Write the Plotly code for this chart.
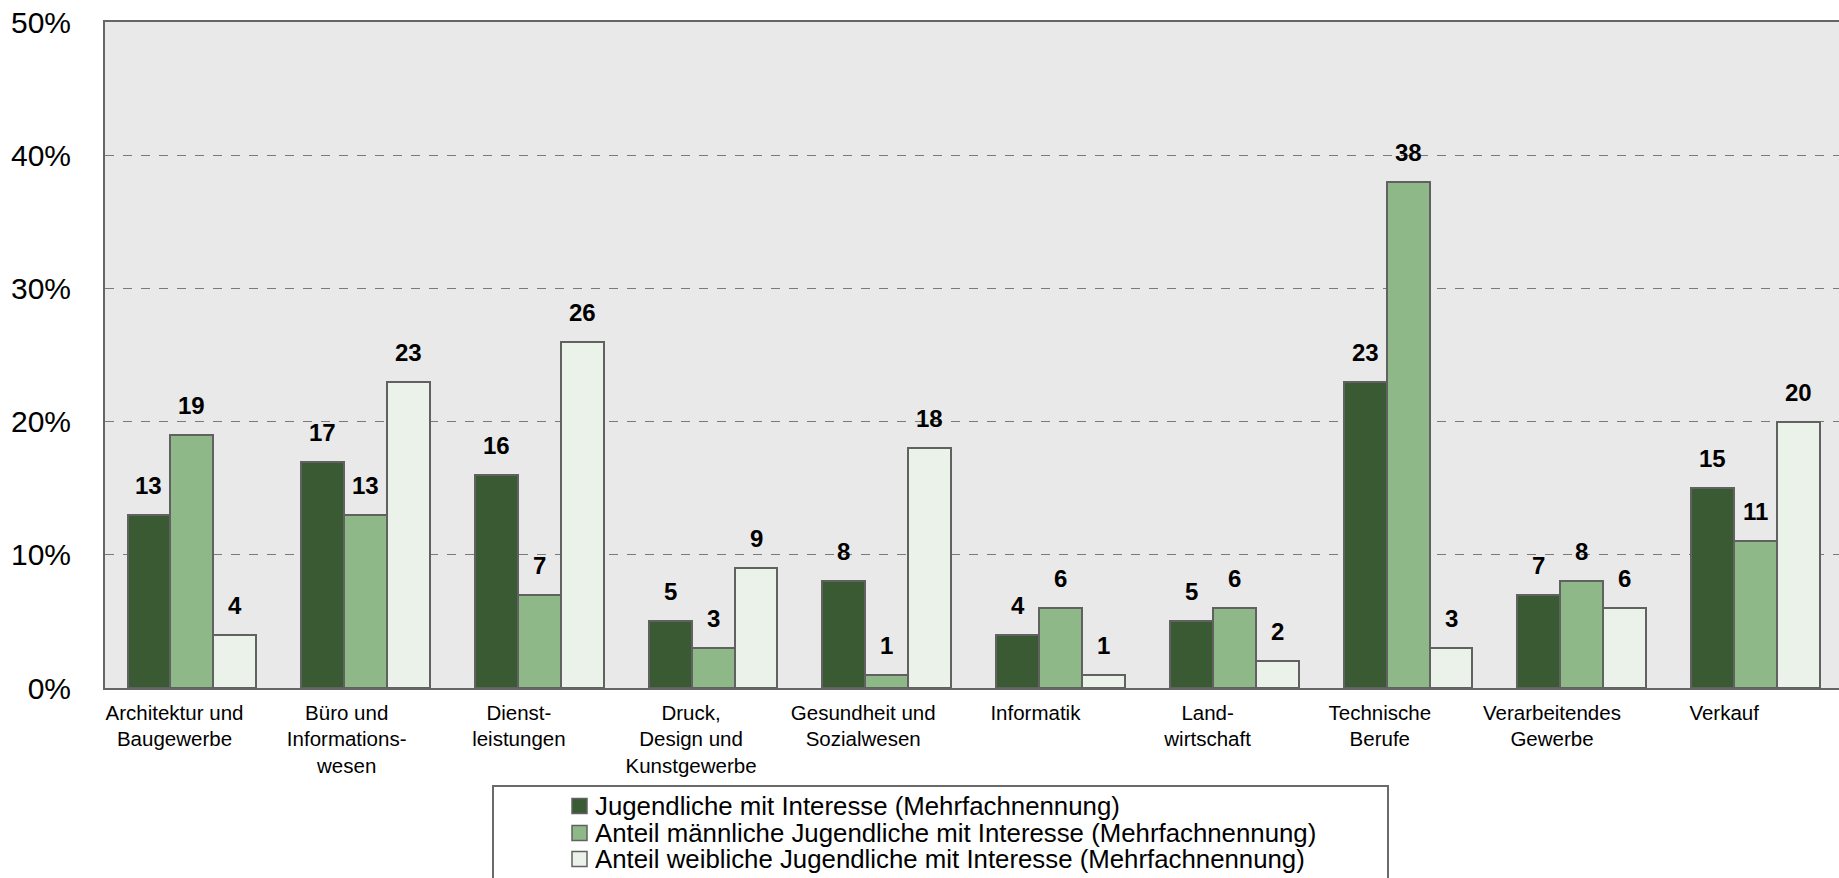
import numpy as np
import plotly.graph_objects as go

# Berufsfelder (x-axis categories)
categories = [
    "Architektur und<br>Baugewerbe",
    "Büro und<br>Informations-<br>wesen",
    "Dienst-<br>leistungen",
    "Druck,<br>Design und<br>Kunstgewerbe",
    "Gesundheit und<br>Sozialwesen",
    "Informatik",
    "Land-<br>wirtschaft",
    "Technische<br>Berufe",
    "Verarbeitendes<br>Gewerbe",
    "Verkauf",
]

# Anteile in Prozent
jugendliche_gesamt = [13, 17, 16, 5, 8, 4, 5, 23, 7, 15]
anteil_maennlich = [19, 13, 7, 3, 1, 6, 6, 38, 8, 11]
anteil_weiblich = [4, 23, 26, 9, 18, 1, 2, 3, 6, 20]

series_names = [
    "Jugendliche mit Interesse (Mehrfachnennung)",
    "Anteil männliche Jugendliche mit Interesse (Mehrfachnennung)",
    "Anteil weibliche Jugendliche mit Interesse (Mehrfachnennung)",
]
series_values = [jugendliche_gesamt, anteil_maennlich, anteil_weiblich]
series_colors = ["#3a5a34", "#8fb888", "#ebf2ea"]

y_ticks = [0, 10, 20, 30, 40, 50]

FONT = "Liberation Sans, Arial, sans-serif"
BAR_W = 0.247
OUTLINE = "#616161"

# figure geometry (pixels)
W, H = 1839, 878
ML, MR, MT, MB = 105, 0, 22, 190
PW, PH = W - ML - MR, H - MT - MB


def px_x(p):
    return (p - ML) / PW


def px_y(p):
    return (H - MB - p) / PH


fig = go.Figure()
xs = np.arange(len(categories))
annotations = []
shapes = []
for k, (name, vals, col) in enumerate(zip(series_names, series_values, series_colors)):
    pos = xs + (k - 1) * BAR_W
    fig.add_trace(go.Bar(
        x=pos, y=vals, width=BAR_W, name=name,
        marker=dict(color=col, line=dict(color=OUTLINE, width=2)),
        hoverinfo="name+y", showlegend=False,
    ))
    for xp, v in zip(pos, vals):
        annotations.append(dict(
            x=xp, y=v, xref="x", yref="y", text=str(v), showarrow=False,
            yanchor="bottom", yshift=14,
            font=dict(family=FONT, size=24, color="#000000", weight="bold"),
        ))

# legend box with one row per series
shapes.append(dict(
    type="rect", xref="paper", yref="paper",
    x0=px_x(493), x1=px_x(1388), y0=px_y(H + 10), y1=px_y(786),
    line=dict(color="#6a6a6a", width=2), fillcolor="rgba(0,0,0,0)",
))
row_y = [806, 833, 859]
for name, col, ry in zip(series_names, series_colors, row_y):
    shapes.append(dict(
        type="rect", xref="paper", yref="paper",
        x0=px_x(572), x1=px_x(587), y0=px_y(ry + 7.5), y1=px_y(ry - 7.5),
        line=dict(color=OUTLINE, width=1.5), fillcolor=col,
    ))
    annotations.append(dict(
        x=px_x(593), y=px_y(ry), xref="paper", yref="paper", text=name,
        showarrow=False, xanchor="left", yanchor="middle",
        font=dict(family=FONT, size=25.8, color="#000000"),
    ))

# category labels sit slightly left of their bar groups
label_pos = xs * 0.991 - 0.1

fig.update_layout(
    width=W, height=H,
    margin=dict(l=ML, r=MR, t=MT, b=MB, autoexpand=False),
    paper_bgcolor="#ffffff",
    plot_bgcolor="#e9e9e9",
    barmode="overlay",
    font=dict(family=FONT, color="#000000"),
    annotations=annotations,
    shapes=shapes,
    showlegend=False,
    bargap=0,
)

fig.update_xaxes(
    range=[-0.5, 9.48],
    tickmode="array", tickvals=label_pos, ticktext=categories,
    tickfont=dict(family=FONT, size=20.5, color="#000000"),
    showgrid=False, zeroline=False,
    showline=True, linecolor="#666666", linewidth=2, mirror=True,
    ticks="", ticklabelstandoff=5,
)
fig.update_yaxes(
    range=[0, 50],
    tickmode="array", tickvals=y_ticks, ticktext=[f"{t}%" for t in y_ticks],
    tickfont=dict(family=FONT, size=30, color="#000000"),
    showgrid=True, gridcolor="#7a7a7a", gridwidth=1, griddash="dash",
    zeroline=False,
    showline=True, linecolor="#666666", linewidth=2,
    ticks="", ticklabelstandoff=26,
)

fig.write_html("out.html")
